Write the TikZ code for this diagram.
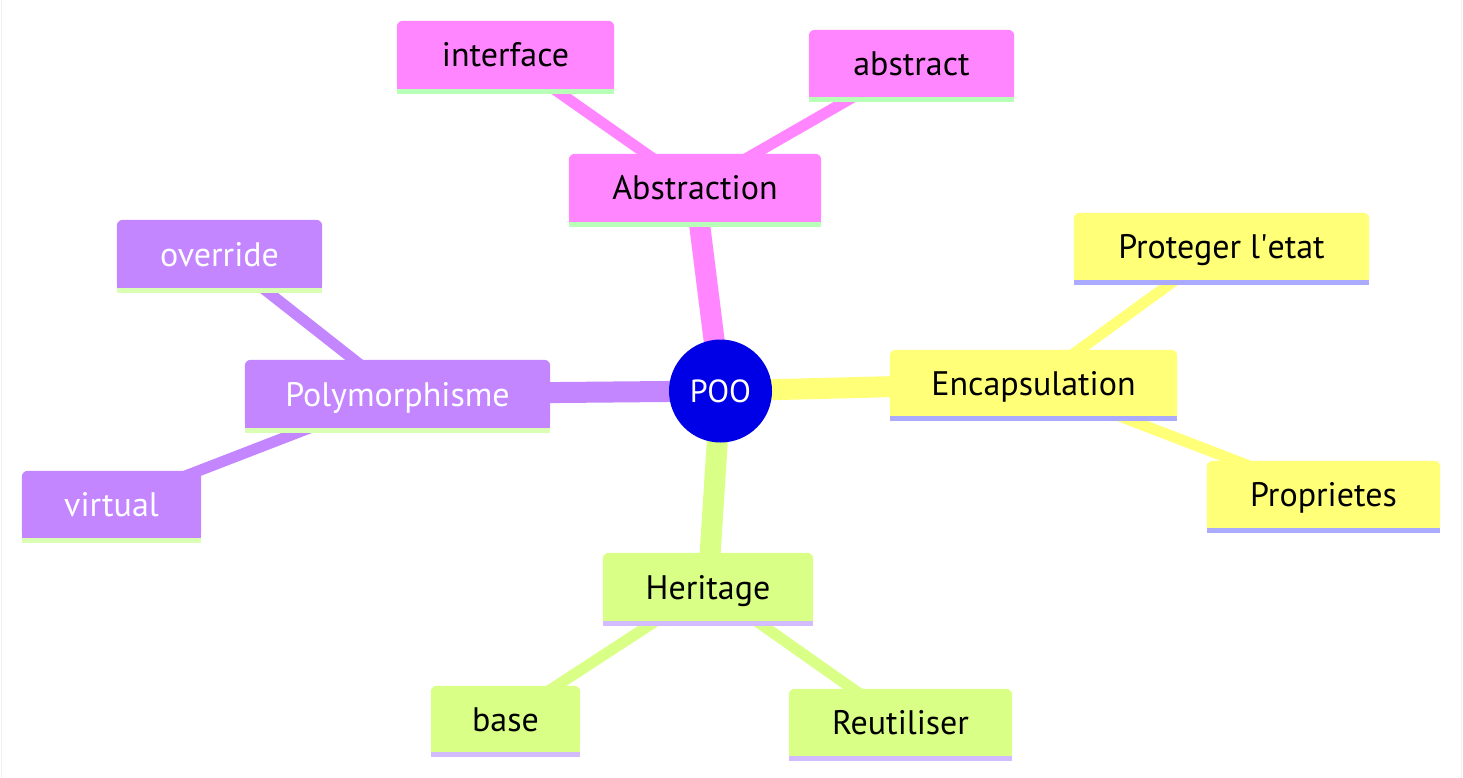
\documentclass[tikz,border=0pt]{standalone}
\usepackage{fontspec}
\setmainfont{PT Sans}
\pgfdeclarelayer{bg}
\pgfdeclarelayer{edges}
\pgfdeclarelayer{shapes}
\pgfsetlayers{bg,edges,shapes,main}
\definecolor{cblue}{HTML}{0000E6}
\definecolor{cyel}{HTML}{FFFF78}
\definecolor{clime}{HTML}{D9FF86}
\definecolor{cpurp}{HTML}{C386FF}
\definecolor{cmag}{HTML}{FF86FF}
\definecolor{uyel}{HTML}{AAAAFF}
\definecolor{ulime}{HTML}{D2BCFF}
\definecolor{upurp}{HTML}{DAFFB4}
\definecolor{umag}{HTML}{B8FFB8}
\definecolor{frame}{HTML}{EEF2F2}
\tikzset{
  txt/.style={inner sep=0pt, font=\fontsize{34pt}{40pt}\selectfont, text height=24pt, text depth=0pt, text=black},
  wtxt/.style={txt, text=white},
  rootedge/.style={line width=21pt},
  childedge/.style={line width=11pt},
}
\newcommand\mmbox[3]{%
  \fill[#2, rounded corners=6pt] (#1.south west) rectangle (#1.north east);
  \fill[#2] (#1.south west) rectangle (#1.east);
  \fill[#3] (#1.south west) rectangle ([yshift=-5pt]#1.south east);}
\begin{document}
\begin{tikzpicture}[x=1pt,y=-1pt]
\useasboundingbox (0,0) rectangle (1463,778);
\begin{pgfonlayer}{bg}
\fill[white] (0,0) rectangle (1463,778);
\draw[frame, line width=1pt] (1,0) -- (1,778);
\draw[frame, line width=1pt] (1461.5,0) -- (1461.5,778);
\end{pgfonlayer}

% nodes
\node[circle, fill=cblue, minimum size=103pt, inner sep=0pt, font=\fontsize{32pt}{38pt}\selectfont, text=white, text height=23pt, text depth=0pt] (poo) at (720.5,391) {POO};

\node[txt, minimum width=252pt, minimum height=68pt] (abs) at (695,188) {Abstraction};
\node[txt, minimum width=217pt, minimum height=68pt] (intf) at (505.5,55) {interface};
\node[txt, minimum width=205pt, minimum height=67pt] (abst) at (911.5,63.5) {abstract};

\node[wtxt, minimum width=305pt, minimum height=68pt] (poly) at (397.5,394) {Polymorphisme};
\node[wtxt, minimum width=205pt, minimum height=68pt] (ovr) at (219.5,254) {override};
\node[wtxt, minimum width=179pt, minimum height=67pt] (virt) at (111.5,504.5) {virtual};

\node[txt, minimum width=287pt, minimum height=66pt] (enc) at (1033.5,383) {Encapsulation};
\node[txt, minimum width=295pt, minimum height=67pt] (prot) at (1221.5,246.5) {Proteger l\textquotesingle etat};
\node[txt, minimum width=233pt, minimum height=67pt] (prop) at (1323.5,494.5) {Proprietes};

\node[txt, minimum width=210pt, minimum height=68pt] (her) at (708,587) {Heritage};
\node[txt, minimum width=149pt, minimum height=66pt] (base) at (505.5,719) {base};
\node[txt, minimum width=223pt, minimum height=67pt] (reu) at (900.5,722.5) {Reutiliser};

\begin{pgfonlayer}{shapes}
\mmbox{abs}{cmag}{umag}
\mmbox{intf}{cmag}{umag}
\mmbox{abst}{cmag}{umag}
\mmbox{poly}{cpurp}{upurp}
\mmbox{ovr}{cpurp}{upurp}
\mmbox{virt}{cpurp}{upurp}
\mmbox{enc}{cyel}{uyel}
\mmbox{prot}{cyel}{uyel}
\mmbox{prop}{cyel}{uyel}
\mmbox{her}{clime}{ulime}
\mmbox{base}{clime}{ulime}
\mmbox{reu}{clime}{ulime}
\end{pgfonlayer}

\begin{pgfonlayer}{edges}
\draw[rootedge, cmag] (poo.center) -- (abs.center);
\draw[rootedge, cpurp] (poo.center) -- (poly.center);
\draw[rootedge, cyel] (poo.center) -- (enc.center);
\draw[rootedge, clime] (poo.center) -- (her.center);
\draw[childedge, cmag] (abs.center) -- (intf.center);
\draw[childedge, cmag] (abs.center) -- (abst.center);
\draw[childedge, cpurp] (poly.center) -- (ovr.center);
\draw[childedge, cpurp] (poly.center) -- (virt.center);
\draw[childedge, cyel] (enc.center) -- (prot.center);
\draw[childedge, cyel] (enc.center) -- (prop.center);
\draw[childedge, clime] (her.center) -- (base.center);
\draw[childedge, clime] (her.center) -- (reu.center);
\end{pgfonlayer}
\end{tikzpicture}
\end{document}
